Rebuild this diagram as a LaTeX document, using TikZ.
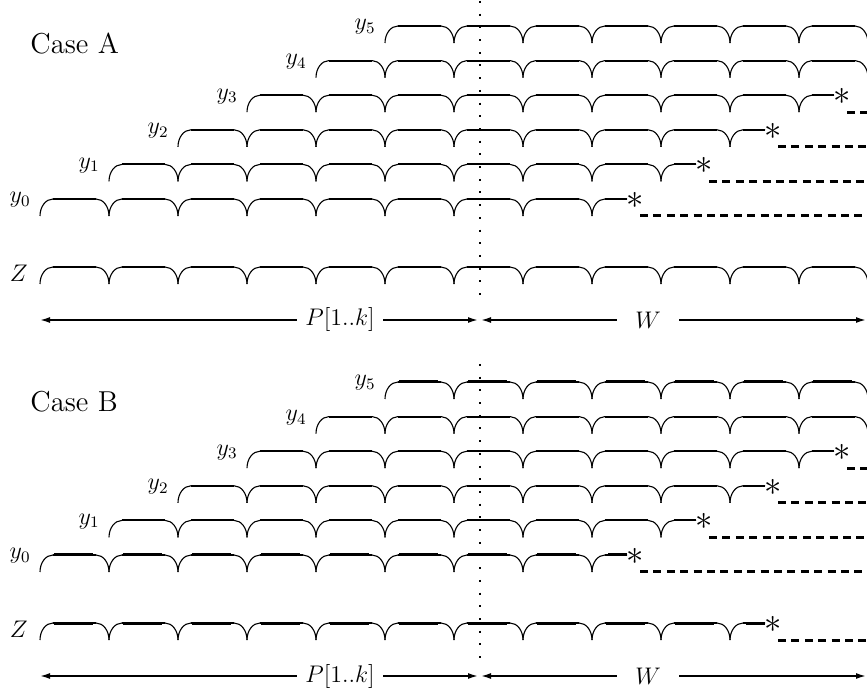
\documentclass[tikz,border=0pt]{standalone}
\usetikzlibrary{arrows.meta}
\tikzset{
  curv/.style={line width=0.55pt},
  flatpart/.style={line width=1pt},
  thickflat/.style={line width=1.5pt},
  tailline/.style={line width=1.5pt, dash pattern=on 4pt off 2.7pt},
  vdots/.style={line width=1pt, dash pattern=on 1pt off 5.35pt},
  dimarrow/.style={line width=0.8pt, -{Latex[length=5pt,width=3pt]}},
  lbl/.style={font=\large, inner sep=0pt},
  astl/.style={font=\fontsize{17}{20}\selectfont, inner sep=0pt},
  casel/.style={font=\Large, inner sep=0pt},
}
% #1 x0, #2 number of periods, #3 top y, #4 thick (0/1)
\newcommand\bperiods[4]{%
  \foreach \k [evaluate=\k as \xa using #1+69*(\k-1)] in {1,...,#2}{
    \draw[curv] (\xa,#3+17) .. controls (\xa,#3+7.6) and (\xa+5.8,#3) .. (\xa+13,#3)
      -- (\xa+56,#3) .. controls (\xa+63.2,#3) and (\xa+69,#3+7.6) .. (\xa+69,#3+17);
    \draw[flatpart] (\xa+13,#3) -- (\xa+56,#3);
    \ifnum#4=1\relax \draw[thickflat] (\xa+14,#3) -- (\xa+53,#3); \fi
  }}
% #1 last cusp x, #2 top y, #3 thick (0/1), #4 name
\newcommand\bend[4]{%
  \draw[curv] (#1,#2+17) .. controls (#1,#2+7.6) and (#1+5.8,#2) .. (#1+13,#2) -- (#1+35,#2);
  \draw[flatpart] (#1+13,#2) -- (#1+35,#2);
  \ifnum#3=1\relax \draw[thickflat] (#1+16,#2) -- (#1+35,#2); \fi
  \node[astl] (#4) at (#1+43,#2+1.5) {$\ast$};
  \coordinate (#4s) at (#1+48,#2+17);
  \coordinate (#4e) at (867,#2+17);
  \draw[tailline] (#4s) -- (#4e);
}
\begin{document}
\begin{tikzpicture}[x=0.5pt,y=-0.5pt]
\useasboundingbox (0,0) rectangle (867,694);
\fill[white] (0,0) rectangle (867,694);

% ---------------- Case A ----------------
\node[casel, anchor=west] (casea) at (30,44) {Case A};
\coordinate (dta) at (480,1);
\coordinate (dba) at (480,303);
\draw[vdots] (dta) -- (dba);

\bperiods{385}{7}{26}{0}
\bperiods{316}{8}{60.6}{0}
\bperiods{247}{8}{95.2}{0}   \bend{799}{95.2}{0}{sa3}
\bperiods{178}{8}{129.8}{0}  \bend{730}{129.8}{0}{sa2}
\bperiods{109}{8}{164.4}{0}  \bend{661}{164.4}{0}{sa1}
\bperiods{40}{8}{199}{0}     \bend{592}{199}{0}{sa0}
\bperiods{40}{12}{267}{0}

\node[lbl, anchor=east] (la5) at (376,27) {$y_5$};
\node[lbl, anchor=east] (la4) at (307,61.6) {$y_4$};
\node[lbl, anchor=east] (la3) at (238,96.2) {$y_3$};
\node[lbl, anchor=east] (la2) at (169,130.8) {$y_2$};
\node[lbl, anchor=east] (la1) at (100,165.4) {$y_1$};
\node[lbl, anchor=east] (la0) at (31,200) {$y_0$};
\node[lbl, anchor=east] (laz) at (28,273) {$Z$};

\node[lbl, inner xsep=4pt] (pa) at (340,320) {$P[1..k]$};
\node[lbl, inner xsep=9pt] (wa) at (648,320) {$W$};
\coordinate (pla) at (40,320);
\coordinate (pra) at (478,320);
\coordinate (wla) at (481,320);
\coordinate (wra) at (866,320);
\draw[dimarrow] (pa.west) -- (pla);
\draw[dimarrow] (pa.east) -- (pra);
\draw[dimarrow] (wa.west) -- (wla);
\draw[dimarrow] (wa.east) -- (wra);

% ---------------- Case B ----------------
\node[casel, anchor=west] (caseb) at (30,402) {Case B};
\coordinate (dtb) at (480,364);
\coordinate (dbb) at (480,660);
\draw[vdots] (dtb) -- (dbb);

\bperiods{385}{7}{382}{1}
\bperiods{316}{8}{416.6}{0}
\bperiods{247}{8}{451.2}{0}  \bend{799}{451.2}{0}{sb3}
\bperiods{178}{8}{485.8}{0}  \bend{730}{485.8}{0}{sb2}
\bperiods{109}{8}{520.4}{0}  \bend{661}{520.4}{0}{sb1}
\bperiods{40}{8}{555}{1}     \bend{592}{555}{1}{sb0}
\bperiods{40}{10}{623}{1}    \bend{730}{623}{1}{sbz}

\node[lbl, anchor=east] (lb5) at (376,383) {$y_5$};
\node[lbl, anchor=east] (lb4) at (307,417.6) {$y_4$};
\node[lbl, anchor=east] (lb3) at (238,452.2) {$y_3$};
\node[lbl, anchor=east] (lb2) at (169,486.8) {$y_2$};
\node[lbl, anchor=east] (lb1) at (100,521.4) {$y_1$};
\node[lbl, anchor=east] (lb0) at (31,556) {$y_0$};
\node[lbl, anchor=east] (lbz) at (28,629) {$Z$};

\node[lbl, inner xsep=4pt] (pb) at (340,676) {$P[1..k]$};
\node[lbl, inner xsep=9pt] (wb) at (648,676) {$W$};
\coordinate (plb) at (40,676);
\coordinate (prb) at (478,676);
\coordinate (wlb) at (481,676);
\coordinate (wrb) at (866,676);
\draw[dimarrow] (pb.west) -- (plb);
\draw[dimarrow] (pb.east) -- (prb);
\draw[dimarrow] (wb.west) -- (wlb);
\draw[dimarrow] (wb.east) -- (wrb);
\end{tikzpicture}
\end{document}
